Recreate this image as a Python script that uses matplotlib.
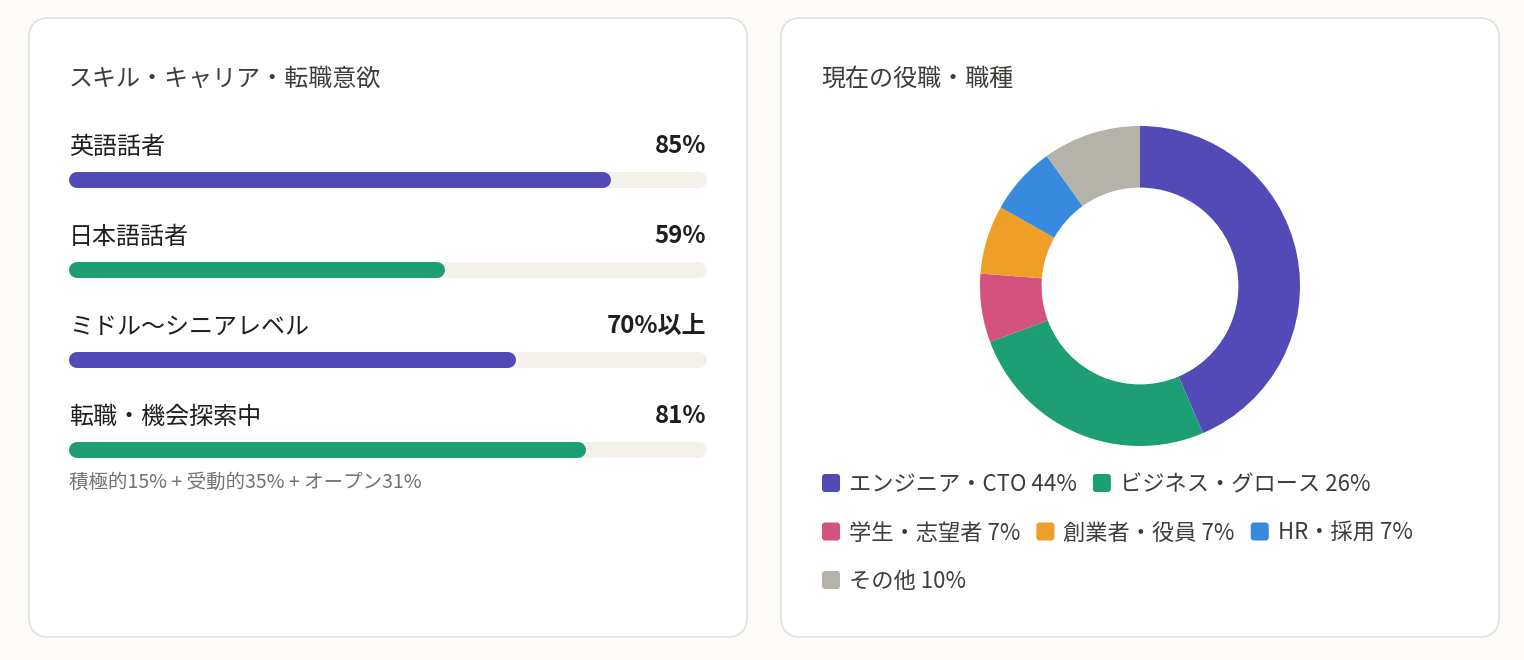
import matplotlib.pyplot as plt
from matplotlib.patches import FancyBboxPatch

plt.rcParams['font.family'] = ['Noto Sans CJK JP', 'DejaVu Sans']

# left card: skill / career bars
bar_labels = ['英語話者', '日本語話者', 'ミドル〜シニアレベル', '転職・機会探索中']
bar_values = [85, 59, 70, 81]
bar_texts = ['85%', '59%', '70%以上', '81%']
bar_colors = ['#534AB7', '#1D9E75', '#534AB7', '#1D9E75']
bar_note = '積極的15% + 受動的35% + オープン31%'

# right card: current role donut
role_labels = ['エンジニア・CTO', 'ビジネス・グロース', '学生・志望者', '創業者・役員', 'HR・採用', 'その他']
role_values = [44, 26, 7, 7, 7, 10]
role_colors = ['#534AB7', '#1D9E75', '#D4537E', '#EF9F27', '#378ADD', '#B4B2A9']

W, H = 1524, 660
fig = plt.figure(figsize=(W / 100, H / 100), dpi=100)
fig.patch.set_facecolor('#FCFBF8')

# pixel-space background axes
bg = fig.add_axes([0, 0, 1, 1])
bg.set_xlim(0, W)
bg.set_ylim(H, 0)
bg.axis('off')

for x0 in (29, 781):
    card = FancyBboxPatch((x0, 18), 718, 619, boxstyle='round,pad=0,rounding_size=20',
                          facecolor='white', edgecolor='#E3E1DB', linewidth=1.2)
    bg.add_patch(card)

bg.text(69, 79, 'スキル・キャリア・転職意欲', fontsize=17.3, color='#3D3D3A', va='center')
bg.text(821, 79, '現在の役職・職種', fontsize=17.3, color='#3D3D3A', va='center')


def px_axes(x0, y0, x1, y1):
    return fig.add_axes([x0 / W, 1 - y1 / H, (x1 - x0) / W, (y1 - y0) / H])


# bars: track spans 69..707 px, round caps kept inside the bar length
bar_h = 16
lw = bar_h * 72 / 100
cap = 100 * (bar_h / 2) / 638
bax = px_axes(69, 120, 707, 470)
bax.set_xlim(0, 100)
bax.set_ylim(470, 120)
bax.axis('off')
for i, (lab, v, t, c) in enumerate(zip(bar_labels, bar_values, bar_texts, bar_colors)):
    yb = 180 + i * 90
    bax.plot([cap, 100 - cap], [yb, yb], color='#F3F1EA', lw=lw, solid_capstyle='round')
    bax.plot([cap, v - cap], [yb, yb], color=c, lw=lw, solid_capstyle='round')
    bg.text(69, yb - 33, lab, fontsize=17.3, color='#1F1F1E', va='center')
    bg.text(706, yb - 34, t, fontsize=17.3, color='#1F1F1E', va='center', ha='right',
            fontweight='bold')

bg.text(69, 482, bar_note, fontsize=14, color='#73726C', va='center')

# donut
R = 160
dax = px_axes(1140 - R, 286 - R, 1140 + R, 286 + R)
dax.pie(role_values, colors=role_colors, startangle=90, counterclock=False, radius=1,
        wedgeprops=dict(width=0.385, linewidth=0))
dax.set_xlim(-1, 1)
dax.set_ylim(-1, 1)
dax.set_aspect('equal')

# legend laid out like a wrapping flex row
fig.canvas.draw()
renderer = fig.canvas.get_renderer()
lx, ly = 822, 485
row_gap = 48.5
right_edge = 1460
for lab, v, c in zip(role_labels, role_values, role_colors):
    s = f'{lab} {v}%'
    t = bg.text(0, ly, s, fontsize=16, color='#3D3D3A', va='center')
    tw = t.get_window_extent(renderer).width
    if lx + 28 + tw > right_edge and lx > 822:
        lx = 822
        ly += row_gap
        t.set_y(ly)
    bg.add_patch(FancyBboxPatch((lx, ly - 11), 18, 18,
                                boxstyle='round,pad=0,rounding_size=3',
                                facecolor=c, edgecolor='none'))
    t.set_x(lx + 27)
    lx += 27 + tw + 16

fig.savefig('out.png', dpi=100, facecolor=fig.get_facecolor())
